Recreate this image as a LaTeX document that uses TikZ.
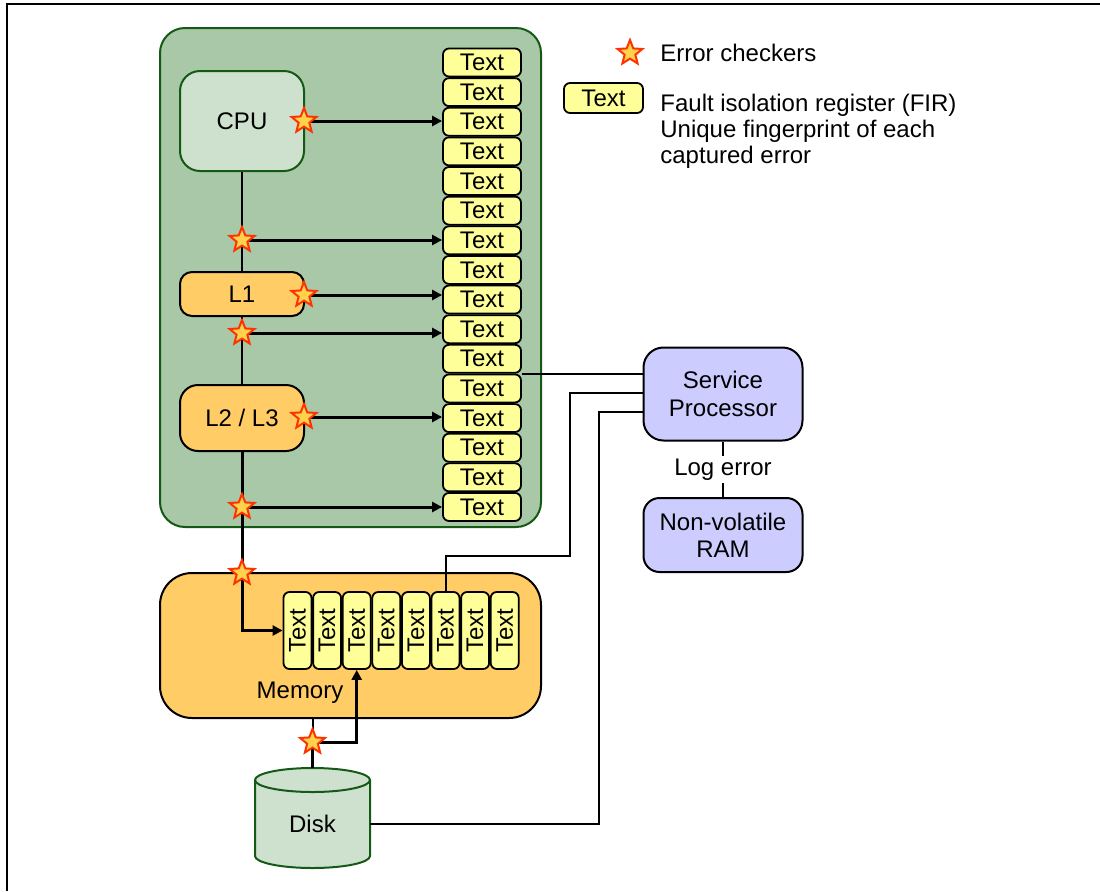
\documentclass[tikz,border=0pt]{standalone}
\usepackage{fontspec}
\setmainfont{Liberation Sans}
\usetikzlibrary{shapes.geometric,arrows.meta}
\definecolor{boardgreen}{HTML}{A8C8A8}
\definecolor{darkgreen}{HTML}{145A14}
\definecolor{palegreen}{HTML}{CEE0CE}
\definecolor{cacheorange}{HTML}{FFCC66}
\definecolor{firyellow}{HTML}{FFFF99}
\definecolor{splav}{HTML}{CCCCFF}
\definecolor{starfill}{HTML}{FFD24D}
\definecolor{starline}{HTML}{FF3300}
\pgfdeclarelayer{front}
\pgfsetlayers{main,front}
\begin{document}
\begin{tikzpicture}[x=0.5pt,y=-0.5pt,
 every node/.style={font=\fontsize{12}{12.85}\selectfont, inner sep=0pt},
 box/.style={draw, line width=1pt, align=center},
 fir/.style={draw, line width=0.9pt, fill=firyellow, rounded corners=3pt, minimum width=39pt, minimum height=14pt},
 vfir/.style={draw, line width=0.9pt, fill=firyellow, rounded corners=3pt, minimum width=14pt, minimum height=38.5pt},
 checker/.style={star, star points=5, star point ratio=2.3, draw=starline, fill=starfill, line width=1pt, minimum size=13pt},
 conn/.style={line width=1pt},
 heavy/.style={line width=1.5pt},
 arr/.style={line width=1.5pt, -{Triangle[length=5pt,width=5pt]}},
]
\useasboundingbox (0,0) rectangle (1100,891);
\draw[line width=1pt] (7,891) -- (7,4) -- (1100,4);

% processor board
\node[box, draw=darkgreen, fill=boardgreen, rounded corners=12.5pt, minimum width=190.5pt, minimum height=249.5pt] (board) at (350.5,277.5) {};
\node[box, draw=darkgreen, fill=palegreen, rounded corners=10pt, minimum width=62pt, minimum height=50pt] (cpu) at (242,121) {CPU};
\node[box, fill=cacheorange, rounded corners=6pt, minimum width=62pt, minimum height=22pt] (l1) at (242,294) {L1};
\node[box, fill=cacheorange, rounded corners=9pt, minimum width=62pt, minimum height=33pt] (l23) at (242,418) {L2 / L3};
\foreach \i in {1,...,16} \node[fir] (f\i) at (482,{62.5+29.63*(\i-1)}) {Text};

% memory
\node[box, fill=cacheorange, rounded corners=16pt, minimum width=190.5pt, minimum height=72.5pt] (mem) at (350.5,645.5) {};
\node (memlabel) at (300,693) {Memory};
\foreach \i in {1,...,8} \node[vfir] (m\i) at ({297.5+29.6*(\i-1)},630.5) {\rotatebox{90}{Text}};

% disk
\filldraw[draw=darkgreen, fill=palegreen, line width=1pt] (255,780) -- (255,856) arc[start angle=180,end angle=360,x radius=28.75pt,y radius=6pt] -- (370,780) arc[start angle=0,end angle=180,x radius=28.75pt,y radius=6pt] -- cycle;
\draw[draw=darkgreen, line width=1pt] (255,780) arc[start angle=180,end angle=360,x radius=28.75pt,y radius=6pt];
\node[minimum width=57.5pt, minimum height=56pt] (disk) at (312.5,824) {Disk};

% service processor and NVRAM
\node[box, fill=splav, rounded corners=10pt, minimum width=79.5pt, minimum height=46.5pt, font=\fontsize{12}{14}\selectfont] (sp) at (723,394) {Service\\Processor};
\node[box, fill=splav, rounded corners=8pt, minimum width=79.5pt, minimum height=37pt, font=\fontsize{12}{13.5}\selectfont] (nv) at (723,535) {Non-volatile\\RAM};
\draw[conn] (sp) -- node[fill=white, inner sep=1.5pt] (logerr) {Log error} (nv);

% error checkers
\begin{pgfonlayer}{front}
\node[checker] (s1) at (304,121) {};
\node[checker] (s2) at (242,240) {};
\node[checker] (s3) at (304,295) {};
\node[checker] (s4) at (242,333) {};
\node[checker] (s5) at (304,417) {};
\node[checker] (s6) at (242,507) {};
\node[checker] (s7) at (242,573) {};
\node[checker] (s8) at (312.5,742) {};
\end{pgfonlayer}

% connectors
\draw[conn] (cpu) -- (l1);
\draw[conn] (l1) -- (l23);
\draw[arr] (l23.south) |- (m1.west);
\draw[arr] (s1.center) -- (s1 -| f3.west);
\draw[arr] (s2.center) -- (s2 -| f7.west);
\draw[arr] (s3.center) -- (s3 -| f9.west);
\draw[arr] (s4.center) -- (s4 -| f10.west);
\draw[arr] (s5.center) -- (s5 -| f13.west);
\draw[arr] (s6.center) -- (s6 -| f16.west);
\draw[conn] (mem.south -| s8) -- (s8.center);
\draw[heavy] (disk.north) -- (s8.center);
\draw[arr] (s8.center) -| (m3.south);

\draw[conn] (f11.south east) -- (f11.south east -| sp.west);
\draw[conn] (m6.north) -- (m6.north |- 0,556) -- (570,556) -- (570,393) -- (sp.west |- 0,393);
\draw[conn] (disk.east) -- (599,824) -- (599,412) -- (sp.west |- 0,412);

% legend
\begin{pgfonlayer}{front}
\node[checker] (ls) at (630,53) {};
\end{pgfonlayer}
\node[anchor=west] (lec) at (660,53) {Error checkers};
\node[fir, minimum width=39.5pt, minimum height=15pt] (lfir) at (603.5,98) {Text};
\node[anchor=north west, align=left] (lfirtext) at (660,94) {Fault isolation register (FIR)\\Unique fingerprint of each\\captured error};
\end{tikzpicture}
\end{document}
